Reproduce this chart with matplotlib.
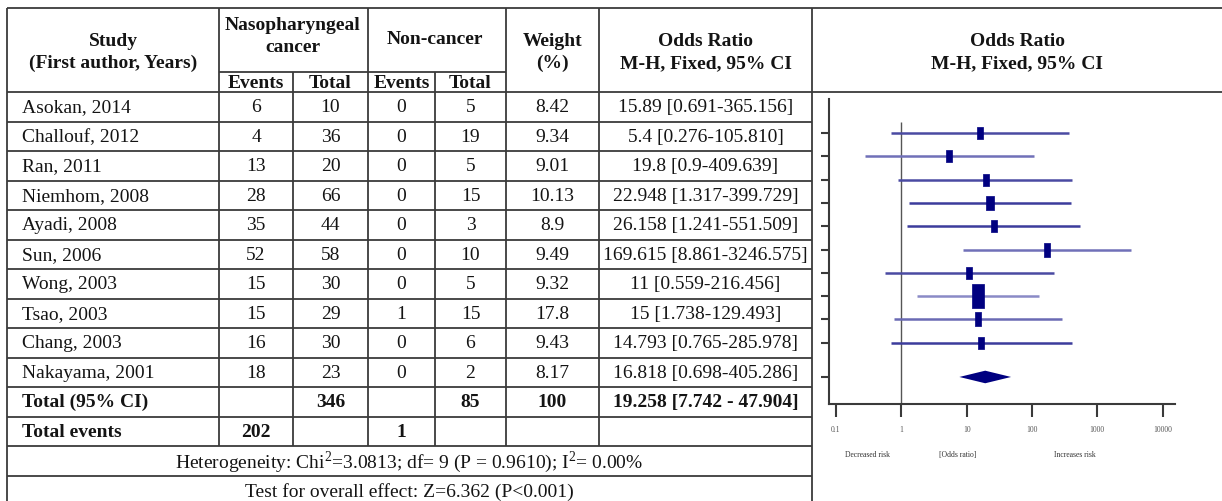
import numpy as np
import matplotlib
matplotlib.use("Agg")
import matplotlib.pyplot as plt
from matplotlib.transforms import blended_transform_factory

plt.rcParams['font.family'] = ['Liberation Serif', 'DejaVu Serif']
plt.rcParams['mathtext.fontset'] = 'custom'
plt.rcParams['mathtext.rm'] = 'Liberation Serif'

studies = ["Asokan, 2014", "Challouf, 2012", "Ran, 2011", "Niemhom, 2008", "Ayadi, 2008",
           "Sun, 2006", "Wong, 2003", "Tsao, 2003", "Chang, 2003", "Nakayama, 2001"]
naso_events = [6, 4, 13, 28, 35, 52, 15, 15, 16, 18]
naso_total = [10, 36, 20, 66, 44, 58, 30, 29, 30, 23]
non_events = [0, 0, 0, 0, 0, 0, 0, 1, 0, 0]
non_total = [5, 19, 5, 15, 3, 10, 5, 15, 6, 2]
weights = [8.42, 9.34, 9.01, 10.13, 8.9, 9.49, 9.32, 17.8, 9.43, 8.17]
or_est = [15.89, 5.4, 19.8, 22.948, 26.158, 169.615, 11, 15, 14.793, 16.818]
ci_lo = [0.691, 0.276, 0.9, 1.317, 1.241, 8.861, 0.559, 1.738, 0.765, 0.698]
ci_hi = [365.156, 105.810, 409.639, 399.729, 551.509, 3246.575, 216.456, 129.493, 285.978, 405.286]
total_naso = 346
total_non = 85
total_weight = 100
pooled = (19.258, 7.742, 47.904)
events_naso = 202
events_non = 1
het_text = r"Heterogeneity: Chi$^{2}$=3.0813; df= 9 (P = 0.9610); I$^{2}$= 0.00%"
test_text = "Test for overall effect: Z=6.362 (P<0.001)"
xtick_vals = [0.1, 1, 10, 100, 1000, 10000]
xtick_labels = ["0.1", "1", "10", "100", "1000", "10000"]

W, H = 1222, 502
fig = plt.figure(figsize=(W / 100, H / 100), dpi=100)
fig.patch.set_facecolor("white")

# table drawn in pixel coordinates
tb = fig.add_axes([0, 0, 1, 1])
tb.set_xlim(0, W)
tb.set_ylim(H, 0)
tb.axis("off")

lc = "#3a3a3a"
tc = "#141414"
fs = 14
cols = [7, 219, 293, 368, 435, 506, 599, 812]
top, sub, head_bot = 9, 73, 93
row_h = 29.5
n_rows = len(studies) + 2
rows_bot = head_bot + row_h * n_rows
het_bot = rows_bot + 30


def hline(y, x0, x1):
    tb.plot([x0, x1], [y, y], color=lc, lw=1.3, solid_capstyle="butt")


def vline(x, y0, y1):
    tb.plot([x, x], [y0, y1], color=lc, lw=1.3, solid_capstyle="butt")


hline(top, cols[0], W)
hline(head_bot, cols[0], W)
hline(sub, cols[1], cols[5])
for k in range(1, n_rows + 1):
    hline(head_bot + row_h * k, cols[0], cols[-1])
hline(het_bot, cols[0], cols[-1])
vline(cols[0], top, H)
vline(cols[-1], top, H)
for x in [cols[1], cols[3], cols[5], cols[6]]:
    vline(x, top, rows_bot)
for x in [cols[2], cols[4]]:
    vline(x, sub, rows_bot)


def cx(i):
    return (cols[i] + cols[i + 1]) / 2


def put(x, y, s, bold=False, ha="center"):
    tb.text(x, y, s, ha=ha, va="center", fontsize=fs, color=tc,
            fontweight="bold" if bold else "normal")


# header
put(cx(0), 41, "Study", True)
put(cx(0), 63, "(First author, Years)", True)
put(cols[2], 26, "Nasopharyngeal", True)
put(cols[2], 48, "cancer", True)
put(cols[4], 40, "Non-cancer", True)
for i in [1, 2, 3, 4]:
    put(cx(i), 83, ["Events", "Total"][(i - 1) % 2], True)
put(cx(5), 41, "Weight", True)
put(cx(5), 63, "(%)", True)
put(cx(6), 41, "Odds Ratio", True)
put(cx(6), 64, "M-H, Fixed, 95% CI", True)
put((cols[-1] + W) / 2, 41, "Odds Ratio", True)
put((cols[-1] + W) / 2, 64, "M-H, Fixed, 95% CI", True)

# body
for i, name in enumerate(studies):
    y = head_bot + row_h * (i + 0.5)
    put(cols[0] + 15, y, name, ha="left")
    put(cx(1), y, str(naso_events[i]))
    put(cx(2), y, str(naso_total[i]))
    put(cx(3), y, str(non_events[i]))
    put(cx(4), y, str(non_total[i]))
    put(cx(5), y, f"{weights[i]:g}")
    put(cx(6), y, f"{or_est[i]:g} [{ci_lo[i]:g}-{ci_hi[i]:.3f}]")

y = head_bot + row_h * (len(studies) + 0.5)
put(cols[0] + 15, y, "Total (95% CI)", True, ha="left")
put(cx(2), y, str(total_naso), True)
put(cx(4), y, str(total_non), True)
put(cx(5), y, str(total_weight), True)
put(cx(6), y, f"{pooled[0]:g} [{pooled[1]:g} - {pooled[2]:g}]", True)
y = head_bot + row_h * (len(studies) + 1.5)
put(cols[0] + 15, y, "Total events", True, ha="left")
put(cx(1), y, str(events_naso), True)
put(cx(3), y, str(events_non), True)
put((cols[0] + cols[-1]) / 2, rows_bot + 15, het_text)
put((cols[0] + cols[-1]) / 2, het_bot + 15, test_text)

# forest plot
px_l, px_r, px_t, px_b = 829, 1175, 100, 405
ax = fig.add_axes([px_l / W, 1 - px_b / H, (px_r - px_l) / W, (px_b - px_t) / H])
ax.set_facecolor("none")
ax.set_xscale("log")
ax.set_xlim(10 ** -1.107, 10 ** 4.19)
ax.set_ylim(11.63, -1.46)
for s in ["top", "right"]:
    ax.spines[s].set_visible(False)
for s in ["left", "bottom"]:
    ax.spines[s].set_color(lc)
    ax.spines[s].set_linewidth(1.5)

ypos = np.arange(len(studies))
ydia = 10.47
ax.vlines(1, -0.47, 11.63, color="#555555", lw=1.0)
line_cols = ["#4a4aa2", "#7070b8", "#4a4aa2", "#3c3c9c", "#3c3c9c",
             "#7070b8", "#4a4aa2", "#8a8ac6", "#6a6ab4", "#3c3c9c"]
ax.hlines(ypos, ci_lo, ci_hi, colors=line_cols, lw=1.8)
rect = [(-0.25, -0.5), (0.25, -0.5), (0.25, 0.5), (-0.25, 0.5), (-0.25, -0.5)]
for i in range(len(studies)):
    ax.plot(or_est[i], ypos[i], marker=rect, ms=weights[i] * 1.0,
            color="#000080", mec="#000080", mew=0.5, ls="none")
est, lo, hi = pooled
ax.fill([lo, est, hi, est], [ydia, ydia - 0.27, ydia, ydia + 0.27], color="#000080", lw=0)

ax.set_yticks(list(ypos) + [ydia])
ax.set_yticklabels([])
ax.tick_params(axis="y", direction="out", length=6, width=1.5, color=lc)
ax.set_xticks(xtick_vals)
ax.set_xticklabels(xtick_labels)
ax.minorticks_off()
ax.tick_params(axis="x", which="minor", length=0)
ax.tick_params(axis="x", direction="out", length=9, width=1.5, color=lc,
               labelsize=5.5, labelcolor="#555555", pad=6)

tr = blended_transform_factory(ax.transData, ax.transAxes)
for xv, s in [(0.3, "Decreased risk"), (7.4, "[Odds ratio]"), (457, "Increases risk")]:
    ax.text(xv, -0.165, s, transform=tr, ha="center", va="center",
            fontsize=5.5, color="#333333")

fig.savefig("out.png", dpi=100)
